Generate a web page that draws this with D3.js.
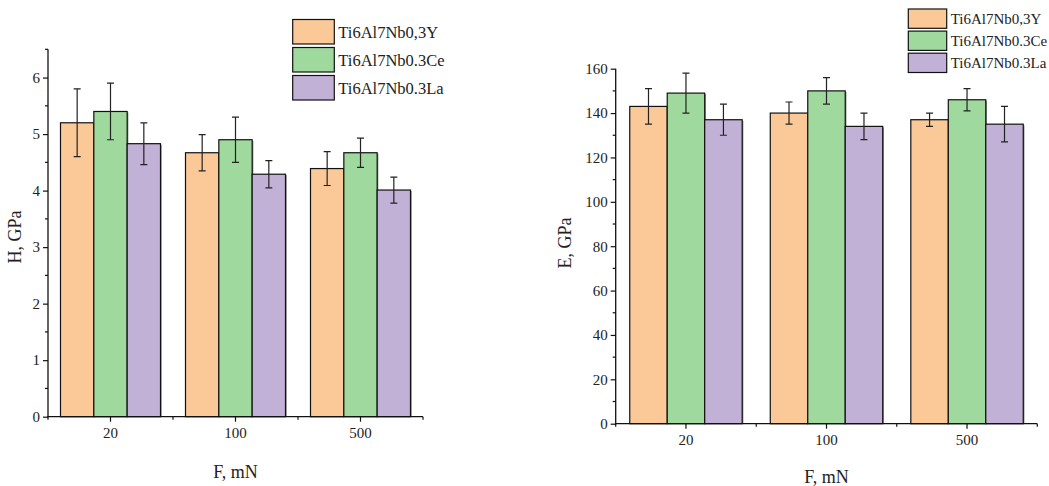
<!DOCTYPE html>
<html>
<head>
<meta charset="utf-8">
<script src="https://cdn.jsdelivr.net/npm/d3@7"></script>
<style>
  body { margin: 0; background: #fff; }
  svg { display: block; }
</style>
</head>
<body>
<svg id="chart" width="1049" height="486"></svg>
<script>
const fontFamily = `"Palatino Linotype", "Book Antiqua", Palatino, "Liberation Serif", serif`;

const forces = ["20", "100", "500"];
const alloys = ["Ti6Al7Nb0,3Y", "Ti6Al7Nb0.3Ce", "Ti6Al7Nb0.3La"];
const colors = ["#fbc997", "#9fd99d", "#c2b1d6"];

// hardness H, GPa (one array per alloy, ordered like forces)
const hardY = [5.2, 4.67, 4.39];
const hardCe = [5.4, 4.9, 4.67];
const hardLa = [4.83, 4.29, 4.01];
const hardErrY = [0.6, 0.32, 0.3];
const hardErrCe = [0.5, 0.4, 0.26];
const hardErrLa = [0.37, 0.24, 0.23];
const hardTicks = [0, 1, 2, 3, 4, 5, 6];

// elastic modulus E, GPa
const modY = [143, 140, 137];
const modCe = [149, 150, 146];
const modLa = [137, 134, 135];
const modErrY = [8, 5, 3];
const modErrCe = [9, 6, 5];
const modErrLa = [7, 6, 8];
const modTicks = [0, 20, 40, 60, 80, 100, 120, 140, 160];

const svg = d3.select("#chart").attr("font-family", fontFamily);

function rows(values, errors) {
  return forces.flatMap((f, i) =>
    alloys.map((a, j) => ({ force: f, alloy: a, color: colors[j], value: values[j][i], err: errors[j][i] })),
  );
}

function drawPanel(opts) {
  const { left, right, top, bottom, yMax, ticks, minorStep, data, yLabel, legend } = opts;
  const g = svg.append("g");

  const x = d3.scaleBand().domain(forces).range([left, right]).paddingInner(0.2).paddingOuter(0.1);
  const xi = d3.scaleBand().domain(alloys).range([0, x.bandwidth()]);
  const y = d3.scaleLinear().domain([0, yMax]).range([bottom, top]);

  const bars = g.append("g")
    .selectAll("g")
    .data(data)
    .join("g")
    .attr("transform", (d) => `translate(${x(d.force) + xi(d.alloy)},0)`);

  // faint shadow on the right side, like the Origin export
  bars.append("rect")
    .attr("x", 1.2)
    .attr("y", (d) => y(d.value) + 1)
    .attr("width", xi.bandwidth())
    .attr("height", (d) => bottom - y(d.value) - 1)
    .attr("fill", "#8a8a8a");

  bars.append("rect")
    .attr("y", (d) => y(d.value))
    .attr("width", xi.bandwidth())
    .attr("height", (d) => bottom - y(d.value))
    .attr("fill", (d) => d.color)
    .attr("stroke", "#111")
    .attr("stroke-width", 1.2);

  const cx = xi.bandwidth() / 2;
  bars.append("path")
    .attr("d", (d) => {
      const y1 = y(d.value + d.err);
      const y0 = y(d.value - d.err);
      return `M${cx},${y0}V${y1}M${cx - 3.5},${y1}H${cx + 3.5}M${cx - 3.5},${y0}H${cx + 3.5}`;
    })
    .attr("fill", "none")
    .attr("stroke", "#222")
    .attr("stroke-width", 1.2);

  // y axis
  const minor = d3.range(minorStep, yMax + 1e-9, minorStep * 2);
  const yAxis = g.append("g").attr("transform", `translate(${left},0)`);
  yAxis.call(d3.axisLeft(y).tickValues(ticks).tickFormat(d3.format("d")).tickSize(5).tickSizeOuter(0).tickPadding(3))
    .call((s) => s.select(".domain").remove());
  yAxis.selectAll(".tick line").attr("stroke", "#111").attr("stroke-width", 1.2);
  yAxis.selectAll(".tick text").attr("font-size", 15).attr("fill", "#222").attr("font-family", fontFamily);
  yAxis.selectAll(".minor")
    .data(minor)
    .join("line")
    .attr("x1", -3).attr("x2", 0)
    .attr("y1", (d) => y(d)).attr("y2", (d) => y(d))
    .attr("stroke", "#111").attr("stroke-width", 1.2);
  yAxis.append("line")
    .attr("y1", top).attr("y2", bottom + 0.6)
    .attr("stroke", "#111").attr("stroke-width", 1.3);

  // x axis
  const xAxis = g.append("g").attr("transform", `translate(0,${bottom})`);
  xAxis.call(d3.axisBottom(x).tickSize(5).tickSizeOuter(0).tickPadding(6))
    .call((s) => s.select(".domain").remove());
  xAxis.selectAll(".tick line").attr("stroke", "#111").attr("stroke-width", 1.2);
  xAxis.selectAll(".tick text").attr("font-size", 15).attr("fill", "#222").attr("font-family", fontFamily);
  const bounds = [left, ...forces.slice(1).map((f) => x(f) - (x.step() - x.bandwidth()) / 2), right];
  xAxis.selectAll(".minor")
    .data(bounds)
    .join("line")
    .attr("x1", (d) => d).attr("x2", (d) => d)
    .attr("y1", 0).attr("y2", 3)
    .attr("stroke", "#111").attr("stroke-width", 1.2);
  xAxis.append("line")
    .attr("x1", left - 0.6).attr("x2", right)
    .attr("stroke", "#111").attr("stroke-width", 1.3);

  // axis titles
  g.append("text")
    .attr("x", (left + right) / 2)
    .attr("y", opts.xTitleY)
    .attr("text-anchor", "middle")
    .attr("font-size", 18)
    .attr("fill", "#222")
    .text("F, mN");

  g.append("text")
    .attr("transform", `translate(${opts.yTitleX},${opts.yTitleY}) rotate(-90)`)
    .attr("text-anchor", "middle")
    .attr("font-size", 18)
    .attr("fill", "#222")
    .text(yLabel);

  // legend
  const lg = g.append("g")
    .selectAll("g")
    .data(alloys)
    .join("g")
    .attr("transform", (d, i) => `translate(${legend.x},${legend.y + i * legend.step})`);
  lg.append("rect")
    .attr("width", legend.w)
    .attr("height", legend.h)
    .attr("fill", (d, i) => colors[i])
    .attr("stroke", "#111")
    .attr("stroke-width", 1.2);
  lg.append("text")
    .attr("x", legend.w + 4)
    .attr("y", legend.h / 2)
    .attr("dy", "0.35em")
    .attr("font-size", legend.fontSize)
    .attr("fill", "#222")
    .text((d) => d);
}

drawPanel({
  left: 48, right: 423, top: 49.3, bottom: 416.7,
  yMax: 6.5, ticks: hardTicks, minorStep: 0.5,
  data: rows([hardY, hardCe, hardLa], [hardErrY, hardErrCe, hardErrLa]),
  yLabel: "H, GPa", yTitleX: 21, yTitleY: 237, xTitleY: 478,
  legend: { x: 292.7, y: 19.5, step: 28, w: 41.6, h: 24.5, fontSize: 16.5 },
});

drawPanel({
  left: 615.7, right: 1037.3, top: 68.7, bottom: 423.7,
  yMax: 160, ticks: modTicks, minorStep: 10,
  data: rows([modY, modCe, modLa], [modErrY, modErrCe, modErrLa]),
  yLabel: "E, GPa", yTitleX: 571, yTitleY: 243, xTitleY: 483,
  legend: { x: 908.3, y: 9, step: 22.1, w: 38.4, h: 19.3, fontSize: 15 },
});
</script>
</body>
</html>
